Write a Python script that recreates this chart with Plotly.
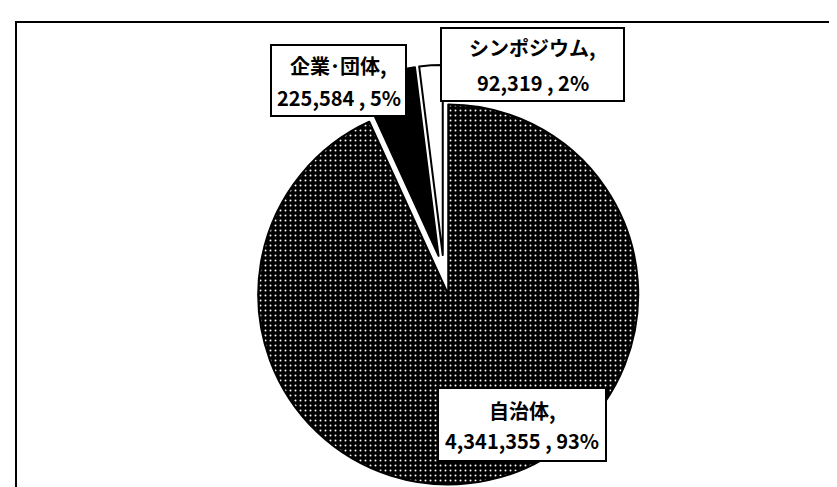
import plotly.graph_objects as go

# ---- data ----
categories = ["自治体", "企業･団体", "シンポジウム"]
values = [4341355, 225584, 92319]
slice_colors = ["#000000", "#000000", "#ffffff"]

W, H = 837, 487
total = sum(values)
percents = [round(v * 100 / total) for v in values]


def px(x):
    return x / W


def py(y):
    return 1 - y / H


fig = go.Figure()

# pie geometry (px): centre, radius, pull shared by all slices
pull = 0.105
cx, cy, r = 436, 267, 190
half = r * (1 + pull)
fig.add_trace(go.Pie(
    labels=categories,
    values=values,
    sort=False,
    direction="clockwise",
    rotation=0,
    pull=[pull] * len(values),
    textinfo="none",
    hoverinfo="label+value+percent",
    showlegend=False,
    domain=dict(x=[px(cx - half), px(cx + half)], y=[py(cy + half), py(cy - half)]),
    marker=dict(
        colors=slice_colors,
        line=dict(color="#000000", width=2),
        pattern=dict(
            shape=[".", "", ""],
            fgcolor=["#ffffff", "#000000", "#000000"],
            bgcolor=slice_colors,
            size=[5, 8, 8],
            solidity=[0.12, 0.3, 0.3],
            fillmode="replace",
        ),
    ),
))

shapes = []
# outer frame (cut off at right and bottom in the reference)
shapes.append(dict(type="rect", xref="paper", yref="paper",
                   x0=px(8), y0=py(14), x1=1.02, y1=-0.02,
                   line=dict(color="#000000", width=2), fillcolor="rgba(0,0,0,0)",
                   layer="above"))

# label boxes: (x0, y0, x1, y1, line1 centre y, line2 centre y) in px
boxes = [
    (430, 380, 598, 453, 402, 432),   # 自治体
    (263, 37, 398, 108, 57, 89),      # 企業・団体
    (433, 20, 616, 93, 39, 74),       # シンポジウム
]

annotations = []
font = dict(family="Noto Sans CJK JP, sans-serif", size=20, color="#000000", weight="bold")
for cat, v, p, (x0, y0, x1, y1, l1, l2) in zip(categories, values, percents, boxes):
    shapes.append(dict(type="rect", xref="paper", yref="paper",
                       x0=px(x0), y0=py(y1), x1=px(x1), y1=py(y0),
                       line=dict(color="#000000", width=2), fillcolor="#ffffff",
                       layer="above"))
    xc = px((x0 + x1) / 2)
    annotations.append(dict(text=f"{cat},", x=xc, y=py(l1), xref="paper", yref="paper",
                            xanchor="center", yanchor="middle", showarrow=False, font=font))
    annotations.append(dict(text=f"{v:,} , {p}%", x=xc, y=py(l2), xref="paper", yref="paper",
                            xanchor="center", yanchor="middle", showarrow=False, font=font))

fig.update_layout(
    width=W, height=H,
    margin=dict(l=0, r=0, t=0, b=0),
    paper_bgcolor="#ffffff",
    plot_bgcolor="#ffffff",
    shapes=shapes,
    annotations=annotations,
)

fig.write_html("out.html")
